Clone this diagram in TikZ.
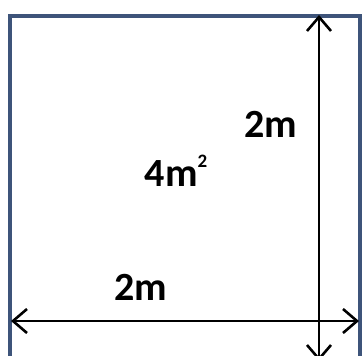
\documentclass[tikz,border=0pt]{standalone}
\usepackage{fontspec}
\setmainfont{Carlito}
\definecolor{boxblue}{RGB}{62,84,122}
\usetikzlibrary{arrows.meta}

\newcommand{\supsq}{\raisebox{19pt}{\fontsize{19}{19}\selectfont 2}}

\begin{document}
\begin{tikzpicture}[
    x=1pt, y=-1pt,
    lbl/.style={font=\fontsize{40}{42}\selectfont\bfseries, inner sep=0pt, anchor=base},
    dim/.style={line width=2.6pt, {Straight Barb[length=14pt,width=24pt]}-{Straight Barb[length=14pt,width=24pt]}}
]
    \useasboundingbox (0,0) rectangle (362,356);
    \draw[line width=4pt, color=boxblue, fill=white] (10,16) rectangle (360,364);

    \coordinate (vtop) at (319,15);
    \coordinate (vbot) at (319,361);
    \coordinate (hleft) at (11,321);
    \coordinate (hright) at (359,321);
    \draw[dim] (vtop) -- (vbot);
    \draw[dim] (hleft) -- (hright);

    \node[lbl] (side) at (271,137) {2m};
    \node[lbl] (area) at (176,186) {4m\supsq};
    \node[lbl] (base) at (141,300) {2m};
\end{tikzpicture}
\end{document}
